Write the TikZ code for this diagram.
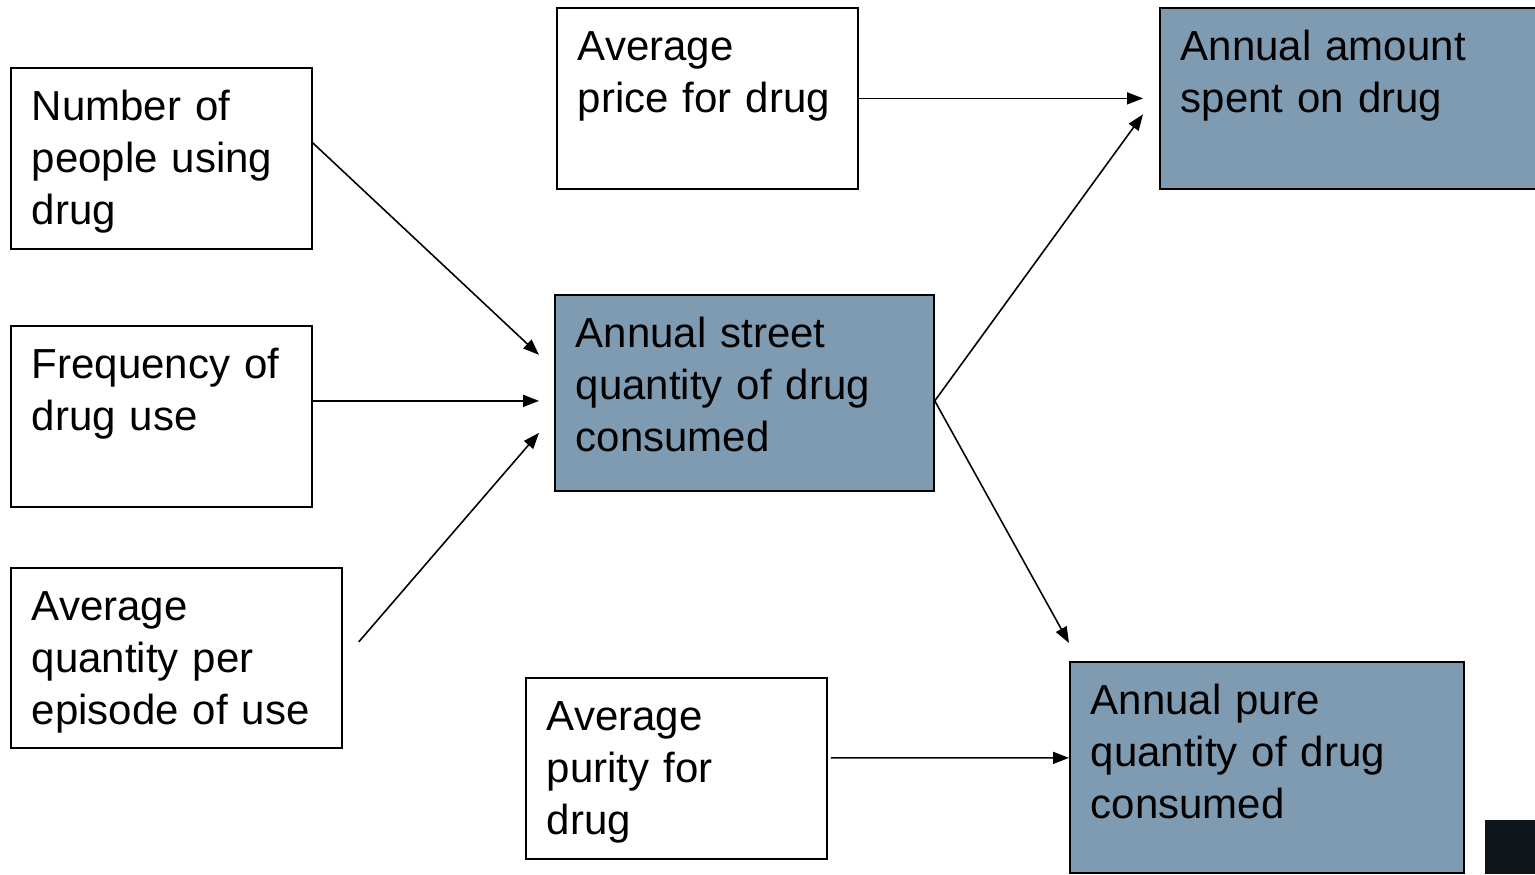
\documentclass[tikz,border=0pt]{standalone}
\usepackage{xcolor}
\usepackage{fontspec}
\setmainfont{Liberation Sans}
\usepackage{tikz}
\usetikzlibrary{arrows.meta}

\definecolor{boxblue}{RGB}{127,155,177}
\definecolor{cornerdark}{RGB}{14,22,28}

\begin{document}
\begin{tikzpicture}
		\tikzstyle{every node} = [font = \fontsize{11.95}{14.8}\selectfont]
		\tikzstyle{box} = [draw, line width=0.5pt, anchor=north west, align=left, inner xsep=0.21cm, inner ysep=0pt, text height=0.53cm]
		\tikzstyle{filled} = [box, fill=boxblue]
		\tikzstyle{link} = [draw, line width=0.45pt, -{Triangle[length=0.16cm, width=0.12cm]}]
			\useasboundingbox (0,0) rectangle (15.35,8.74);
			% inputs on the left
			\node[box, text width=2.59cm, text depth=1.28cm] (people) at (0.10,8.07) {Number of\\people using\\drug};
			\node[box, text width=2.59cm, text depth=1.28cm] (freq) at (0.10,5.49) {Frequency of\\drug use};
			\node[box, text width=2.89cm, text depth=1.27cm] (episode) at (0.10,3.07) {Average\\quantity per\\episode of use};
			% middle column
			\node[box, text width=2.59cm, text depth=1.28cm] (price) at (5.56,8.67) {Average\\price for drug};
			\node[filled, text width=3.37cm, text depth=1.43cm] (street) at (5.54,5.80) {Annual street\\quantity of drug\\consumed};
			\node[box, text width=2.59cm, text depth=1.28cm] (purity) at (5.25,1.97) {Average\\purity for\\drug};
			% results on the right
			\node[filled, text width=3.43cm, text depth=1.28cm] (spent) at (11.59,8.67) {Annual amount\\spent on drug};
			\node[filled, text width=3.52cm, text depth=1.58cm] (pure) at (10.69,2.13) {Annual pure\\quantity of drug\\consumed};
			\path[fill=cornerdark] (14.85,0) rectangle (15.35,0.54);
			% connectors
			\path[link] ([yshift=0.155cm]people.east) -- ([xshift=-0.15cm, yshift=0.38cm]street.west);
			\path[link] ([yshift=0.155cm]freq.east) -- ([xshift=-0.15cm, yshift=-0.08cm]street.west);
			\path[link] ([xshift=0.16cm, yshift=0.16cm]episode.east) -- ([xshift=-0.15cm, yshift=-0.40cm]street.west);
			\path[link] (price.east) -- ([xshift=-0.16cm]spent.west);
			\path[link] ([yshift=-0.08cm]street.east) -- ([xshift=-0.16cm, yshift=-0.16cm]spent.west);
			\path[link] ([yshift=-0.08cm]street.east) -- ([yshift=0.18cm]pure.north west);
			\path[link] ([xshift=0.03cm, yshift=0.105cm]purity.east) -- ([yshift=0.095cm]pure.west);
		\end{tikzpicture}
\end{document}
